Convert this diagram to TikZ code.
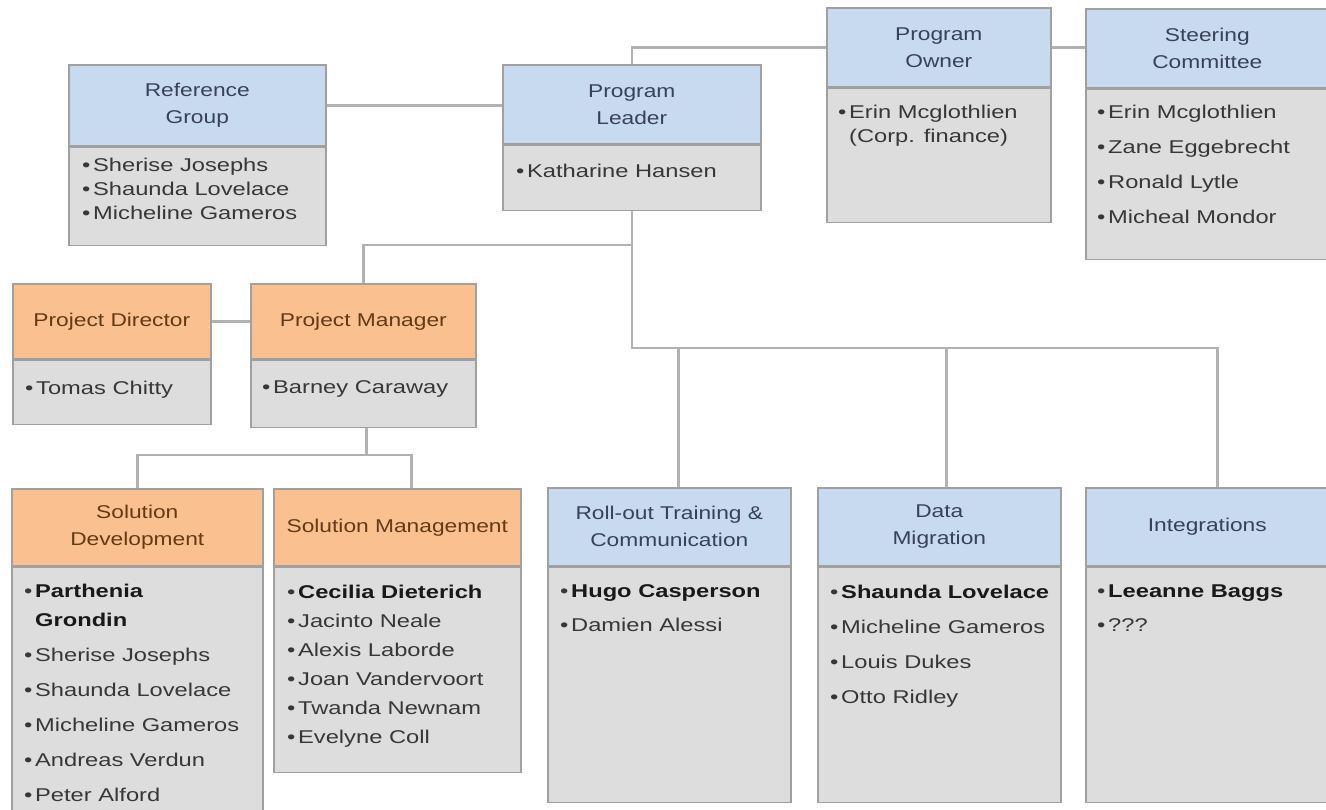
\documentclass[tikz,border=0pt]{standalone}
\usepackage{fontspec}
\setmainfont[FakeStretch=1.28]{Liberation Sans}
\newfontfamily\hdfont[FakeStretch=1.23]{Liberation Sans}
\definecolor{hblue}{RGB}{200,218,240}
\definecolor{horange}{RGB}{250,192,143}
\definecolor{bgray}{RGB}{221,221,221}
\definecolor{bord}{RGB}{160,160,160}
\definecolor{connc}{RGB}{178,178,178}
\definecolor{tblue}{RGB}{55,66,88}
\definecolor{torange}{RGB}{100,58,22}
\definecolor{tbody}{RGB}{55,55,55}
\definecolor{tbold}{RGB}{25,25,25}
\newcommand{\bu}{\makebox[11pt][l]{•}}
\newcommand{\ind}{\hspace*{11pt}}
\newcommand{\bo}[1]{{\bfseries\color{tbold}#1}}
\tikzset{
  hbase/.style={draw=bord, line width=1.6pt, anchor=north west, inner sep=0pt, align=center, font=\hdfont\fontsize{18.5}{27}\selectfont},
  hb/.style={hbase, fill=hblue, text=tblue},
  ho/.style={hbase, fill=horange, text=torange},
  bodybox/.style={draw=bord, line width=1.6pt, fill=bgray, anchor=north west, inner sep=0pt},
  listtxt/.style={anchor=north west, inner sep=0pt, align=left, text=tbody, font=\fontsize{18.5}{24}\selectfont},
  listwide/.style={listtxt, font=\fontsize{18.5}{29}\selectfont},
  conn/.style={draw=connc, line width=2.6pt}
}
\begin{document}
\begin{tikzpicture}[x=1pt,y=-1pt]
\useasboundingbox[fill=white] (0,0) rectangle (1326,809);
\coordinate (bus) at (0,348);
\coordinate (up) at (0,245);
\coordinate (sub) at (0,455);
% headers
\node[hb, minimum width=257pt, minimum height=81pt] (rgH) at (68,64) {Reference\\Group};
\node[hb, minimum width=258pt, minimum height=79pt] (plH) at (502,64) {Program\\Leader};
\node[hb, minimum width=224pt, minimum height=79pt] (poH) at (826,7) {Program\\Owner};
\node[hb, minimum width=243pt, minimum height=79pt] (scH) at (1085,8) {Steering\\Committee};
\node[ho, minimum width=198pt, minimum height=75pt] (pdH) at (12,283) {Project Director};
\node[ho, minimum width=225pt, minimum height=75pt] (pmH) at (250,283) {Project Manager};
\node[ho, minimum width=251pt, minimum height=77pt] (sdH) at (11,488) {Solution\\Development};
\node[ho, minimum width=247pt, minimum height=77pt] (smH) at (273,488) {Solution Management};
\node[hb, minimum width=243pt, minimum height=78pt] (rtH) at (547,487) {Roll-out Training \&\\Communication};
\node[hb, minimum width=243pt, minimum height=78pt] (dmH) at (817,487) {Data\\Migration};
\node[hb, minimum width=243pt, minimum height=78pt] (inH) at (1085,487) {Integrations};
% bodies
\node[bodybox, minimum width=257pt, minimum height=98pt] (rgB) at (rgH.south west) {};
\node[bodybox, minimum width=258pt, minimum height=65pt] (plB) at (plH.south west) {};
\node[bodybox, minimum width=224pt, minimum height=134pt] (poB) at (poH.south west) {};
\node[bodybox, minimum width=243pt, minimum height=170pt] (scB) at (scH.south west) {};
\node[bodybox, minimum width=198pt, minimum height=64pt] (pdB) at (pdH.south west) {};
\node[bodybox, minimum width=225pt, minimum height=67pt] (pmB) at (pmH.south west) {};
\node[bodybox, minimum width=251pt, minimum height=252pt] (sdB) at (sdH.south west) {};
\node[bodybox, minimum width=247pt, minimum height=205pt] (smB) at (smH.south west) {};
\node[bodybox, minimum width=243pt, minimum height=235pt] (rtB) at (rtH.south west) {};
\node[bodybox, minimum width=243pt, minimum height=235pt] (dmB) at (dmH.south west) {};
\node[bodybox, minimum width=243pt, minimum height=235pt] (inB) at (inH.south west) {};
% connectors
\draw[conn] (rgH.east) -- (rgH.east -| plH.west);
\draw[conn] (plH.north) |- (poH.west);
\draw[conn] (poH.east) -- (poH.east -| scH.west);
\draw[conn] (plB.south) -- (plB.south |- bus) -| ([xshift=10pt]inH.north);
\draw[conn] ([xshift=9pt]rtH.north) -- ([xshift=9pt]rtH.north |- bus);
\draw[conn] ([xshift=7pt]dmH.north) -- ([xshift=7pt]dmH.north |- bus);
\draw[conn] (pmH.north) |- (plB.south |- up);
\draw[conn] (pdH.east) -- (pmH.west);
\draw[conn] ([xshift=3pt]pmB.south) -- ([xshift=3pt]pmB.south |- sub) -| ([xshift=14pt]smH.north);
\draw[conn] (sdH.north) |- ([xshift=3pt]pmB.south |- sub);
% lists
\node[listtxt] (rgT) at ([xshift=14pt,yshift=-11pt]rgB.north west) {\bu Sherise Josephs\\\bu Shaunda Lovelace\\\bu Micheline Gameros};
\node[listtxt] (plT) at ([xshift=14pt,yshift=-19pt]plB.north west) {\bu Katharine Hansen};
\node[listtxt] (poT) at ([xshift=12pt,yshift=-17pt]poB.north west) {\bu Erin Mcglothlien\\\ind(Corp. finance)};
\node[listtxt] (scT) at ([xshift=12pt,yshift=-16pt]scB.north west) {\bu Erin Mcglothlien\\[11pt]\bu Zane Eggebrecht\\[11pt]\bu Ronald Lytle\\[11pt]\bu Micheal Mondor};
\node[listtxt] (pdT) at ([xshift=13pt,yshift=-21pt]pdB.north west) {\bu Tomas Chitty};
\node[listtxt] (pmT) at ([xshift=12pt,yshift=-21pt]pmB.north west) {\bu Barney Caraway};
\node[listwide] (sdT) at ([xshift=13pt,yshift=-17pt]sdB.north west) {\bu \bo{Parthenia}\\\ind\bo{Grondin}\\[6pt]\bu Sherise Josephs\\[6pt]\bu Shaunda Lovelace\\[6pt]\bu Micheline Gameros\\[6pt]\bu Andreas Verdun\\[6pt]\bu Peter Alford};
\node[listwide] (smT) at ([xshift=14pt,yshift=-18pt]smB.north west) {\bu \bo{Cecilia Dieterich}\\\bu Jacinto Neale\\\bu Alexis Laborde\\\bu Joan Vandervoort\\\bu Twanda Newnam\\\bu Evelyne Coll};
\node[listwide] (rtT) at ([xshift=13pt,yshift=-18pt]rtB.north west) {\bu \bo{Hugo Casperson}\\[5pt]\bu Damien Alessi};
\node[listwide] (dmT) at ([xshift=13pt,yshift=-18pt]dmB.north west) {\bu \bo{Shaunda Lovelace}\\[6pt]\bu Micheline Gameros\\[6pt]\bu Louis Dukes\\[6pt]\bu Otto Ridley};
\node[listwide] (inT) at ([xshift=12pt,yshift=-18pt]inB.north west) {\bu \bo{Leeanne Baggs}\\[5pt]\bu ???};
\end{tikzpicture}
\end{document}
